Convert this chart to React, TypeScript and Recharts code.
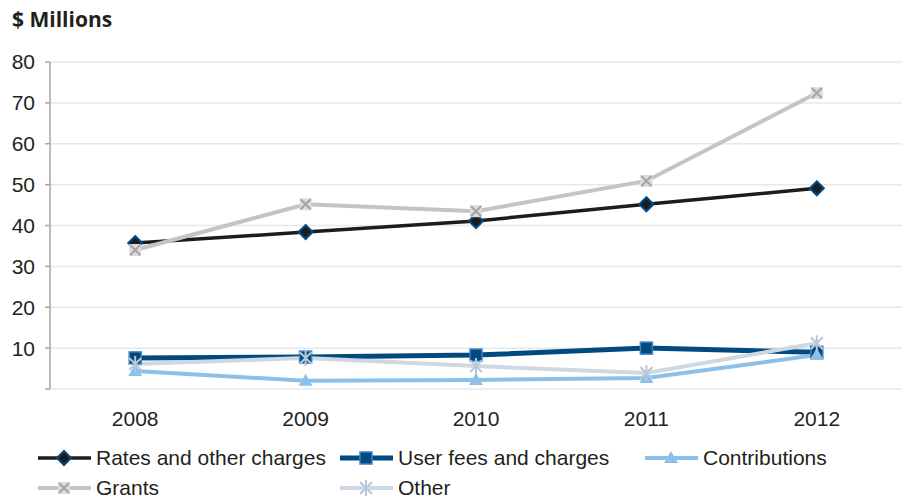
import React from 'react'
import { LineChart, Line, XAxis, YAxis, CartesianGrid } from 'recharts'

const YEARS = ['2008', '2009', '2010', '2011', '2012']
const RATES = [35.7, 38.4, 41.1, 45.2, 49.1]
const USER_FEES = [7.6, 7.8, 8.3, 10.0, 9.0]
const CONTRIBUTIONS = [4.4, 2.0, 2.2, 2.7, 8.3]
const GRANTS = [34.0, 45.2, 43.5, 50.9, 72.4]
const OTHER = [6.1, 7.6, 5.6, 3.9, 11.2]
const Y_TICKS = [0, 10, 20, 30, 40, 50, 60, 70, 80]
const BOUNDS = [-0.5, 0.5, 1.5, 2.5, 3.5, 4.5]

const data = YEARS.map((year, i) => ({
  i,
  year,
  rates: RATES[i],
  fees: USER_FEES[i],
  contrib: CONTRIBUTIONS[i],
  grants: GRANTS[i],
  other: OTHER[i],
}))

const FONT = '"Liberation Sans", Arial, sans-serif'
const TEXT = '#231f20'
const AXIS = '#a6a6a6'

function Diamond({ cx, cy }: any) {
  return <path d={`M${cx},${cy - 7}L${cx + 7},${cy}L${cx},${cy + 7}L${cx - 7},${cy}Z`} fill="#1c1c1c" stroke="#004b87" strokeWidth={2} />
}
function Square({ cx, cy }: any) {
  return <rect x={cx - 6} y={cy - 6} width={12} height={12} fill="#004a80" stroke="#3d7fc0" strokeWidth={1.5} />
}
function Triangle({ cx, cy }: any) {
  return <path d={`M${cx},${cy - 7}L${cx + 7},${cy + 5}L${cx - 7},${cy + 5}Z`} fill="#8dc0e8" />
}
function CrossBox({ cx, cy }: any) {
  return (
    <g>
      <rect x={cx - 6} y={cy - 6} width={12} height={12} fill="#dcdcdc" />
      <path d={`M${cx - 5},${cy - 5}L${cx + 5},${cy + 5}M${cx + 5},${cy - 5}L${cx - 5},${cy + 5}`} stroke="#a4a4a4" strokeWidth={2} />
    </g>
  )
}
function Asterisk({ cx, cy }: any) {
  return (
    <path
      d={`M${cx - 6},${cy - 6}L${cx + 6},${cy + 6}M${cx + 6},${cy - 6}L${cx - 6},${cy + 6}M${cx},${cy - 8}L${cx},${cy + 8}`}
      stroke="#b8c8d8" strokeWidth={2}
    />
  )
}

const SERIES = [
  { key: 'rates', name: 'Rates and other charges', color: '#1c1c1c', width: 3.5, Marker: Diamond },
  { key: 'fees', name: 'User fees and charges', color: '#004a80', width: 5, Marker: Square },
  { key: 'contrib', name: 'Contributions', color: '#8dc0e8', width: 4, Marker: Triangle },
  { key: 'grants', name: 'Grants', color: '#c4c4c4', width: 4, Marker: CrossBox },
  { key: 'other', name: 'Other', color: '#cdd8e2', width: 4, Marker: Asterisk },
]

// legend slots: [left, top]
const LEGEND_POS = [[38, 446], [340, 446], [645, 446], [38, 476], [340, 476]]

function LegendItem({ s, pos }: any) {
  const M = s.Marker
  return (
    <div style={{ position: 'absolute', left: pos[0], top: pos[1], display: 'flex', alignItems: 'center', height: 24 }}>
      <svg width={55} height={24}>
        <line x1={0} y1={12} x2={53} y2={12} stroke={s.color} strokeWidth={s.width} />
        <M cx={26} cy={12} />
      </svg>
      <span style={{ marginLeft: 3, fontFamily: FONT, fontSize: 21, color: TEXT, lineHeight: '24px' }}>{s.name}</span>
    </div>
  )
}

export default function App() {
  return (
    <div style={{ position: 'absolute', left: 0, top: 0, width: 902, height: 500, background: '#fff' }}>
      <div style={{ position: 'absolute', left: 12, top: 5, fontFamily: '"Open Sans", sans-serif', fontWeight: 700, fontSize: 21, color: TEXT }}>
        $ Millions
      </div>
      <div style={{ position: 'absolute', left: 0, top: 0 }}>
        <LineChart width={902} height={440} data={data} margin={{ top: 62, right: 0, left: 0, bottom: 0 }} style={{ fontFamily: FONT }}>
          <CartesianGrid vertical={false} stroke="#e8e8e8" strokeWidth={1.5} />
          <XAxis
            xAxisId="b"
            dataKey="i"
            type="number"
            domain={[-0.5, 4.5]}
            ticks={BOUNDS}
            height={0}
            stroke={AXIS}
            strokeWidth={1.5}
            tickSize={7}
            tick={() => <g />}
          />
          <XAxis
            xAxisId="l"
            dataKey="i"
            type="number"
            domain={[-0.5, 4.5]}
            ticks={[0, 1, 2, 3, 4]}
            height={51}
            axisLine={false}
            tickLine={false}
            tickFormatter={(v: number) => YEARS[v]}
            tick={{ fill: TEXT, fontSize: 21, dy: 14 }}
          />
          <YAxis
            domain={[0, 80]}
            ticks={Y_TICKS}
            width={50}
            stroke={AXIS}
            strokeWidth={1.5}
            tickSize={5}
            tickMargin={10}
            tickFormatter={(v: number) => (v === 0 ? '' : String(v))}
            tick={{ fill: TEXT, fontSize: 21 }}
          />
          {SERIES.map((s) => (
            <Line
              key={s.key}
              xAxisId="l"
              dataKey={s.key}
              name={s.name}
              stroke={s.color}
              strokeWidth={s.width}
              isAnimationActive={false}
              dot={(p: any) => <s.Marker key={p.index} cx={p.cx} cy={p.cy} />}
              activeDot={false}
            />
          ))}
        </LineChart>
      </div>
      {SERIES.map((s, i) => (
        <LegendItem key={s.key} s={s} pos={LEGEND_POS[i]} />
      ))}
    </div>
  )
}
